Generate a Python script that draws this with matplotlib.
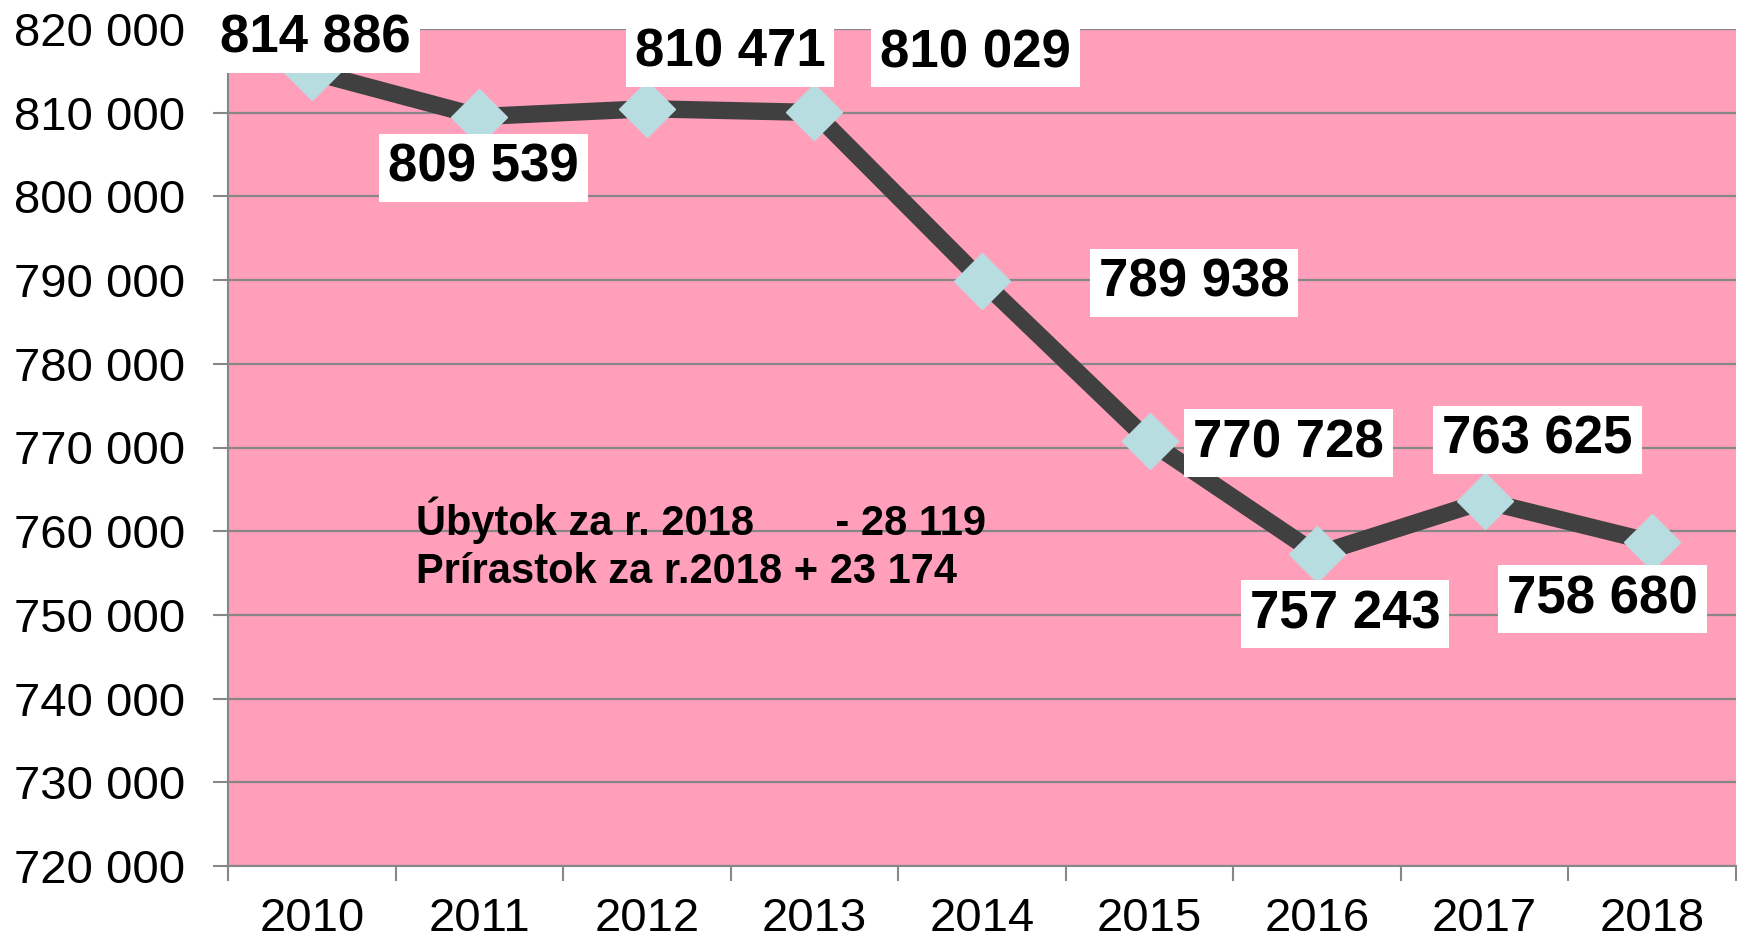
import matplotlib
matplotlib.use("Agg")
import matplotlib.pyplot as plt
from matplotlib.ticker import FuncFormatter, FixedLocator

years = ["2010", "2011", "2012", "2013", "2014", "2015", "2016", "2017", "2018"]
values = [814886, 809539, 810471, 810029, 789938, 770728, 757243, 763625, 758680]
y_ticks = [720000, 730000, 740000, 750000, 760000, 770000, 780000, 790000, 800000, 810000, 820000]
note_lines = ["Úbytok za r. 2018       - 28 119", "Prírastok za r.2018 + 23 174"]

# label offsets (pixels) relative to each point
label_offsets = [(4, 33), (4, -51), (83, 56), (161, 59), (212, -2),
                 (139, -2), (28, -60), (53, 61), (-50, -57)]

plt.rcParams['font.family'] = ['Liberation Sans', 'DejaVu Sans']

fig = plt.figure(figsize=(17.41, 9.44), dpi=100)
ax = fig.add_axes([228/1741, 78/944, 1508/1741, 837/944])
ax.set_facecolor('#FF9FBA')

x = list(range(len(years)))
ax.plot(x, values, color='#404040', lw=12.5, solid_joinstyle='miter', zorder=3)
ax.plot(x, values, ls='none', marker='D', ms=29, mfc='#B7DDE0', mec='#B7DDE0', zorder=4)

ax.set_xlim(-0.5, len(years) - 0.5)
ax.set_ylim(720000, 820000)
ax.yaxis.set_major_locator(FixedLocator(y_ticks))
ax.yaxis.set_major_formatter(FuncFormatter(lambda v, p: f"{int(v):,}".replace(",", " ")))
ax.grid(axis='y', color='#878787', lw=1.6, zorder=1)
ax.set_axisbelow(True)

ax.set_xticks(x)
ax.set_xticklabels(years)
ax.set_xticks([i - 0.5 for i in range(len(years) + 1)], minor=True)
ax.tick_params(axis='x', which='major', length=0, pad=22, labelsize=34)
ax.tick_params(axis='x', which='minor', length=11, width=1.5, color='#878787')
ax.tick_params(axis='y', which='major', length=11, width=1.5, color='#878787', pad=20, labelsize=34)

for s in ['top', 'right']:
    ax.spines[s].set_visible(False)
for s in ['left', 'bottom']:
    ax.spines[s].set_color('#878787')
    ax.spines[s].set_linewidth(1.5)

for xi, v, (dx, dy) in zip(x, values, label_offsets):
    ax.annotate(f"{v:,}".replace(",", " "), (xi, v), xytext=(dx, dy),
                textcoords='offset pixels', ha='center', va='center',
                fontsize=38, fontweight='bold', color='black', zorder=5,
                annotation_clip=False,
                bbox=dict(boxstyle='square,pad=0.17', fc='white', ec='none'))

ax.text(0.62, 758400, "\n".join(note_lines), ha='left', va='center',
        fontsize=30, fontweight='bold', linespacing=1.25, zorder=5)

fig.savefig("out.png", dpi=100)
